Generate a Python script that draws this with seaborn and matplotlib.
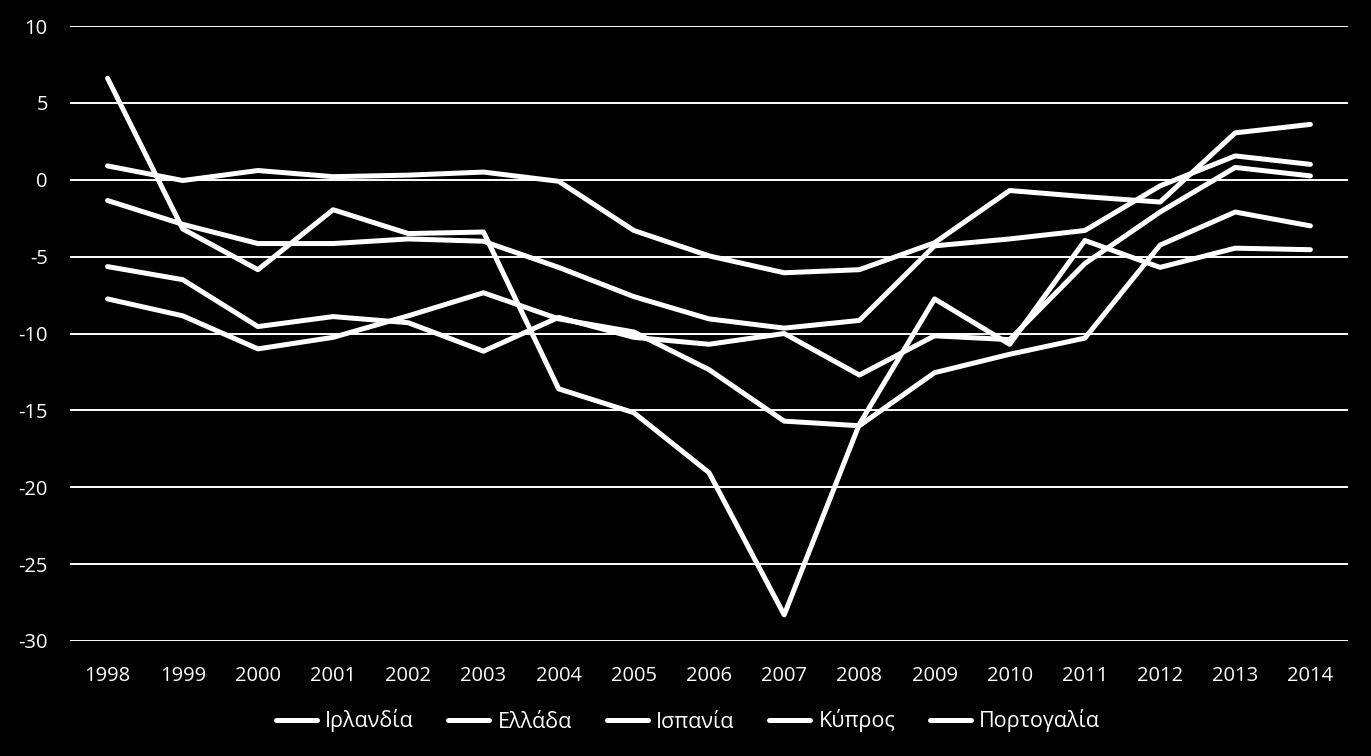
import matplotlib
matplotlib.use("Agg")
import matplotlib.pyplot as plt
import seaborn as sns
import pandas as pd

years = list(range(1998, 2015))
countries = ["Ιρλανδία", "Ελλάδα", "Ισπανία", "Κύπρος", "Πορτογαλία"]

ireland = [0.9, -0.05, 0.6, 0.2, 0.3, 0.5, -0.1, -3.3, -4.95, -6.05, -5.85,
           -4.1, -0.7, -1.1, -1.45, 3.05, 3.6]
greece = [-7.75, -8.85, -11.0, -10.25, -8.85, -7.35, -9.05, -9.9, -12.35, -15.7, -16.0,
          -12.55, -11.35, -10.3, -4.25, -2.1, -3.0]
spain = [-1.35, -2.9, -4.15, -4.15, -3.85, -4.0, -5.7, -7.6, -9.05, -9.65, -9.15,
         -4.3, -3.85, -3.3, -0.4, 1.55, 1.0]
cyprus = [6.6, -3.2, -5.85, -1.95, -3.5, -3.4, -13.6, -15.15, -19.05, -28.3, -15.9,
          -7.75, -10.7, -3.95, -5.7, -4.45, -4.55]
portugal = [-5.65, -6.5, -9.55, -8.9, -9.3, -11.15, -8.95, -10.25, -10.7, -10.0, -12.7,
            -10.15, -10.4, -5.45, -2.1, 0.8, 0.25]

series = [ireland, greece, spain, cyprus, portugal]
rows = []
for name, vals in zip(countries, series):
    for y, v in zip(years, vals):
        rows.append({"year": y, "value": v, "country": name})
df = pd.DataFrame(rows)

sns.set_theme(style="dark")
plt.rcParams["font.family"] = ["Open Sans", "DejaVu Sans"]

fig = plt.figure(figsize=(13.71, 7.56), dpi=100, facecolor="black")
ax = fig.add_axes([70 / 1371, 1 - 641 / 756, (1348 - 70) / 1371, (641 - 26) / 756])
ax.set_facecolor("black")

for yv in range(-30, 11, 5):
    ax.axhline(yv, color="white", lw=1.4, zorder=1)

sns.lineplot(data=df, x="year", y="value", hue="country", hue_order=countries,
             palette=["white"] * 5, linewidth=3.6, ax=ax, legend=True, zorder=3)

ax.set_xlim(1997.5, 2014.5)
ax.set_ylim(-30, 10)
ax.set_xticks(years)
ax.set_xticklabels([str(y) for y in years])
ax.set_yticks(list(range(-30, 11, 5)))
ax.set_yticklabels([str(v) for v in range(-30, 11, 5)])
ax.tick_params(axis="both", colors="white", labelsize=14.5, length=0)
ax.tick_params(axis="x", pad=18)
ax.tick_params(axis="y", pad=16)
ax.set_xlabel("")
ax.set_ylabel("")
ax.grid(False)
for s in ax.spines.values():
    s.set_visible(False)

ax.get_legend().remove()
handles, labels = ax.get_legend_handles_labels()
leg = fig.legend(handles, labels, loc="center", bbox_to_anchor=(688 / 1371, 1 - 721 / 756),
                 ncol=5, frameon=False, fontsize=15.5, handlelength=1.9,
                 handletextpad=0.4, columnspacing=1.6)
for t in leg.get_texts():
    t.set_color("white")
for h in leg.get_lines():
    h.set_color("white")
    h.set_linewidth(3.6)

fig.savefig("out.png", dpi=100, facecolor="black")
